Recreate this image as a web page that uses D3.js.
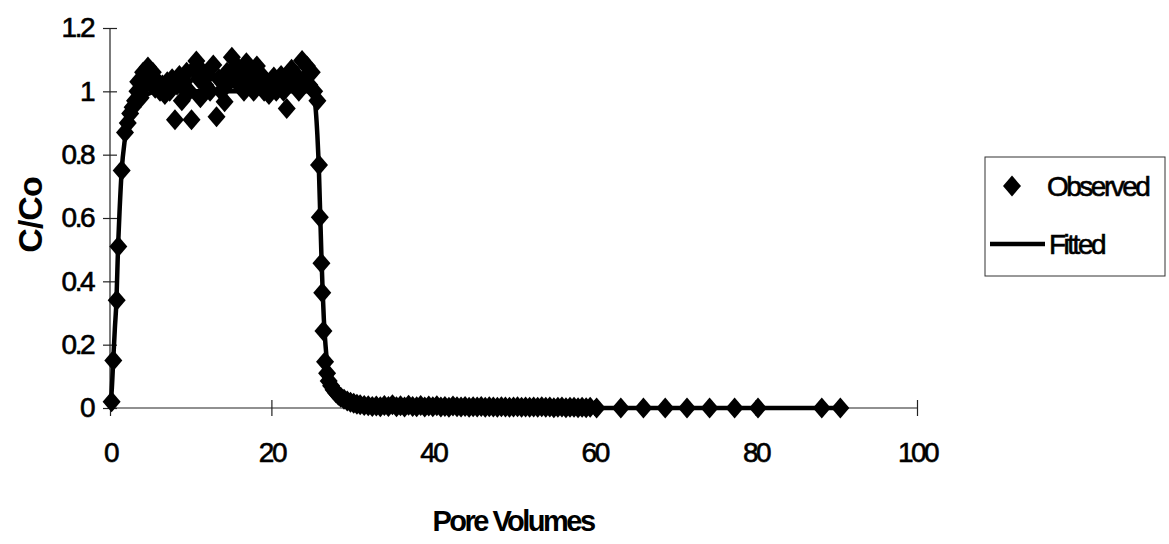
<!DOCTYPE html>
<html>
<head>
<meta charset="utf-8">
<script src="https://cdn.jsdelivr.net/npm/d3@7"></script>
<style>
  html, body { margin: 0; padding: 0; background: #fff; }
  svg { display: block; font-family: Arial, "Liberation Sans", sans-serif; }
</style>
</head>
<body>
<svg id="chart" width="1169" height="544"></svg>
<script>
// Breakthrough curve: relative concentration versus pore volumes
const obsPV = [
  0.2, 0.41, 0.83, 1.03, 1.45, 1.86, 2.2, 2.5, 2.8, 3.1, 3.4, 3.5, 3.8, 4.1, 4.4, 4.7,
  5.0, 5.3, 5.6, 5.9, 6.2, 6.5, 6.8, 7.1, 7.4, 7.7, 8.05, 8.3, 8.6, 8.9, 9.2, 9.5, 9.8,
  10.1, 10.4, 10.7, 11.0, 11.2, 11.5, 11.8, 12.1, 12.4, 12.8, 13.2, 13.5, 13.8, 14.2,
  14.5, 14.8, 15.1, 15.4, 15.7, 16.0, 16.3, 16.6, 16.9, 17.2, 17.5, 17.8, 18.2, 18.5,
  18.8, 19.1, 19.4, 19.7, 20.0, 20.3, 20.6, 20.9, 21.2, 21.5, 21.9, 22.2, 22.5, 22.8,
  23.1, 23.4, 23.8, 24.1, 24.4, 24.7, 25.0, 25.3, 25.7, 25.9, 26.0, 26.2, 26.3, 26.45,
  26.65, 26.9, 27.1, 27.4, 27.7, 28.0, 28.3, 28.6, 29.0, 29.4, 29.8, 30.2, 30.6, 31.0,
  31.5, 32.0, 32.5, 33.0, 33.5, 34.0, 34.5, 35.0, 35.5, 36.0, 36.5, 37.0, 37.5, 38.0,
  38.5, 39.0, 39.5, 40.0, 40.5, 41.0, 41.5, 42.0, 42.5, 43.0, 43.5, 44.0, 44.5, 45.0,
  45.5, 46.0, 46.5, 47.0, 47.5, 48.0, 48.5, 49.0, 49.5, 50.0, 50.5, 51.0, 51.5, 52.0,
  52.5, 53.0, 53.5, 54.0, 54.5, 55.0, 55.5, 56.0, 56.5, 57.0, 57.5, 58.0, 58.5, 59.0,
  59.5, 60.3, 63.3, 66.1, 68.8, 71.5, 74.3, 77.4, 80.3, 88.2, 90.5
];
const obsC = [
  0.02, 0.15, 0.34, 0.51, 0.75, 0.87, 0.9, 0.93, 0.95, 0.97, 1.0, 1.03, 0.98, 1.06, 1.02, 1.077,
  1.04, 1.06, 1.01, 1.03, 1.0, 1.02, 0.99, 1.03, 1.0, 1.04, 0.91, 1.02, 1.05, 0.97, 1.03, 1.06, 1.0,
  0.91, 1.07, 1.096, 1.04, 0.98, 1.06, 1.02, 1.05, 1.0, 1.083, 0.92, 1.04, 1.0, 0.967,
  1.06, 1.03, 1.108, 1.05, 1.08, 1.02, 1.06, 1.0, 1.09, 1.04, 1.06, 1.0, 1.08, 1.02,
  1.05, 1.0, 1.03, 0.99, 1.01, 1.045, 1.0, 1.02, 1.05, 1.0, 0.946, 1.03, 1.07, 1.02,
  1.05, 1.0, 1.097, 1.04, 1.08, 1.02, 1.06, 1.0, 0.97, 0.767, 0.602, 0.457, 0.364, 0.243,
  0.146, 0.11, 0.085, 0.07, 0.058, 0.048, 0.04, 0.034, 0.028, 0.022, 0.018, 0.015, 0.012, 0.01,
  0.008, 0.007, 0.005, 0.006, 0.004, 0.008, 0.005, 0.01, 0.004, 0.007, 0.003, 0.009, 0.005, 0.004,
  0.008, 0.003, 0.006, 0.004, 0.007, 0.003, 0.005, 0.002, 0.006, 0.004, 0.003, 0.005, 0.002, 0.004,
  0.003, 0.005, 0.002, 0.004, 0.003, 0.002, 0.004, 0.003, 0.002, 0.003, 0.004, 0.002, 0.003, 0.002,
  0.003, 0.002, 0.004, 0.002, 0.003, 0.001, 0.002, 0.003, 0.001, 0.002, 0.002, 0.001, 0.002, 0.001,
  0.002, 0.0, 0.0, 0.0, 0.0, 0.0, 0.0, 0.0, 0.0, 0.0, 0.0
];

const fitPV = [
  0, 0.2, 0.4, 0.6, 0.8, 1.0, 1.2, 1.45, 1.8, 2.2, 2.7, 3.3, 4, 5, 6, 8, 10, 15, 20, 25,
  25.3, 25.5, 25.7, 25.9, 26.05, 26.2, 26.35, 26.5, 26.7, 26.9, 27.2, 27.6, 28.1, 28.7,
  29.4, 30.3, 31.5, 33, 36, 40, 50, 60, 70, 80, 90
];
const fitC = [
  0, 0.05, 0.15, 0.25, 0.34, 0.51, 0.63, 0.75, 0.84, 0.89, 0.93, 0.96, 0.98, 0.995, 1.0, 1.0, 1.0, 1.0, 1.0, 1.0,
  0.985, 0.94, 0.86, 0.74, 0.61, 0.48, 0.37, 0.28, 0.2, 0.145, 0.1, 0.07, 0.05, 0.034,
  0.022, 0.013, 0.007, 0.003, 0.001, 0, 0, 0, 0, 0, 0
];

const xTicks = [0, 20, 40, 60, 80, 100];
const yTicks = [0, 0.2, 0.4, 0.6, 0.8, 1, 1.2];
const xTitle = "Pore Volumes";
const yTitle = "C/Co";
const seriesNames = ["Observed", "Fitted"];

const svg = d3.select("#chart");
const x = d3.scaleLinear().domain([0, 100]).range([110, 917]);
const y = d3.scaleLinear().domain([0, 1.2]).range([408, 28]);

const tickFont = "28px";

// y axis with ticks crossing the axis line
const yAxis = svg.append("g")
  .attr("transform", `translate(${x(0)},0)`)
  .call(d3.axisLeft(y).tickValues(yTicks).tickSize(7).tickPadding(10).tickFormat(d3.format("")));
yAxis.select(".domain").attr("stroke", "#222").attr("stroke-width", 1.2).attr("d", `M0,${y(1.2)}V${y(0)}`);
yAxis.selectAll(".tick line").attr("x1", -7).attr("x2", 7).attr("stroke", "#222").attr("stroke-width", 1.2);
yAxis.selectAll(".tick text").attr("font-size", tickFont).attr("fill", "#000")
  .attr("letter-spacing", "-2.5px").attr("stroke", "#000").attr("stroke-width", 0.6);

// x axis
const xAxis = svg.append("g")
  .attr("transform", `translate(0,${y(0)})`)
  .call(d3.axisBottom(x).tickValues(xTicks).tickSize(8).tickPadding(26).tickFormat(d3.format("")));
xAxis.select(".domain").attr("stroke", "#222").attr("stroke-width", 1.2).attr("d", `M${x(0)},0H${x(100)}`);
xAxis.selectAll(".tick line").attr("y1", -8).attr("y2", 8).attr("stroke", "#222").attr("stroke-width", 1.2);
xAxis.selectAll(".tick text").attr("font-size", tickFont).attr("fill", "#000")
  .attr("letter-spacing", "-2.5px").attr("stroke", "#000").attr("stroke-width", 0.6);

// axis titles
svg.append("text")
  .attr("x", 513).attr("y", 531)
  .attr("text-anchor", "middle")
  .attr("font-size", "29px").attr("font-weight", "bold").attr("letter-spacing", "-2.5px")
  .text(xTitle);
svg.append("text")
  .attr("transform", "translate(42,215) rotate(-90)")
  .attr("text-anchor", "middle")
  .attr("font-size", "34px").attr("font-weight", "bold").attr("letter-spacing", "-1px")
  .text(yTitle);

// diamond marker
const diamond = (cx, cy, w, h) => `M${cx},${cy - h}L${cx + w},${cy}L${cx},${cy + h}L${cx - w},${cy}Z`;

// fitted curve
const fitted = fitPV.map((v, i) => [v, fitC[i]]);
const line = d3.line().x(d => x(d[0])).y(d => y(d[1])).curve(d3.curveMonotoneX);
svg.append("path")
  .datum(fitted)
  .attr("d", line)
  .attr("fill", "none")
  .attr("stroke", "#000")
  .attr("stroke-width", 4.5)
  .attr("stroke-linejoin", "round");

// observed points
const observed = obsPV.map((v, i) => [v, obsC[i]]);
svg.append("g").selectAll("path")
  .data(observed)
  .join("path")
  .attr("d", d => diamond(x(d[0]), y(d[1]), 9, 10.5))
  .attr("fill", "#000");

// legend
const lg = svg.append("g");
lg.append("rect")
  .attr("x", 985).attr("y", 157).attr("width", 180).attr("height", 119)
  .attr("fill", "#fff").attr("stroke", "#333").attr("stroke-width", 1);
lg.append("path").attr("d", diamond(1012, 186, 9, 10.5)).attr("fill", "#000");
lg.append("text").attr("x", 1047).attr("y", 196)
  .attr("font-size", "28px").attr("letter-spacing", "-2.5px")
  .attr("stroke", "#000").attr("stroke-width", 0.6)
  .text(seriesNames[0]);
lg.append("line").attr("x1", 990).attr("x2", 1045).attr("y1", 244).attr("y2", 244)
  .attr("stroke", "#000").attr("stroke-width", 4.5);
lg.append("text").attr("x", 1049).attr("y", 254)
  .attr("font-size", "28px").attr("letter-spacing", "-2.5px")
  .attr("stroke", "#000").attr("stroke-width", 0.6)
  .text(seriesNames[1]);
</script>
</body>
</html>
